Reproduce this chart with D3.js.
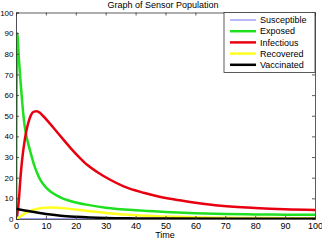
<!DOCTYPE html>
<html>
<head>
<meta charset="utf-8">
<script src="https://cdn.jsdelivr.net/npm/d3@7"></script>
<style>
  body { margin: 0; background: #fff; }
  svg { display: block; font-family: "Liberation Sans", Arial, sans-serif; }
</style>
</head>
<body>
<div id="chart"></div>
<script>
// series: [time, population]
const susceptible = [[0, 100], [0.1, 62], [0.2, 30], [0.3, 12], [0.5, 3], [1, 0.5], [2, 0.1], [100, 0]];
const exposed = [[0, 0], [0.2, 60], [0.4, 90], [1, 77], [1.5, 67], [2, 58], [2.5, 50], [3, 44], [4, 37], [5, 31.5], [6, 26.5], [7, 22.5], [8, 19.3], [10, 15.3], [12, 12.8], [15, 10.4], [20, 8], [25, 6.6], [30, 5.5], [40, 4.2], [50, 3.4], [60, 2.8], [70, 2.4], [80, 2.2], [90, 2.1], [100, 2.0]];
const infectious = [[0, 0], [0.5, 3], [1, 10], [1.5, 20], [2, 28], [3, 39], [4, 46], [5, 50.3], [6, 52], [7, 52.2], [8, 51.4], [9, 50], [11, 46.8], [13.5, 42.5], [16, 38.2], [18.5, 34], [21.5, 29.4], [24, 26], [27, 22.9], [31.5, 19], [36, 15.8], [42.7, 12.7], [48, 10.8], [54, 9.2], [60, 7.9], [68.5, 6.4], [80, 5.3], [90, 4.7], [100, 4.4]];
const recovered = [[0, 0], [1, 0.8], [2, 1.8], [4, 3.4], [6, 4.5], [8, 5.2], [10, 5.5], [12, 5.6], [15, 5.3], [20, 4.6], [25, 3.7], [30, 2.9], [35, 2.3], [40, 1.8], [50, 1.2], [60, 0.8], [70, 0.6], [80, 0.5], [90, 0.4], [100, 0.35]];
const vaccinated = [[0, 5], [5, 3.6], [10, 2.4], [15, 1.6], [20, 1.1], [30, 0.5], [40, 0.3], [50, 0.2], [100, 0.1]];

const seriesNames = ["Susceptible", "Exposed", "Infectious", "Recovered", "Vaccinated"];
const seriesData = [susceptible, exposed, infectious, recovered, vaccinated];
const seriesColors = ["#7474f4", "#1fe01f", "#e80010", "#ffff20", "#000000"];
const seriesWidths = [1, 2.5, 2.5, 2.5, 2.5];

const xTicks = [0, 10, 20, 30, 40, 50, 60, 70, 80, 90, 100];
const yTicks = [0, 10, 20, 30, 40, 50, 60, 70, 80, 90, 100];

const width = 322, height = 240;
const pLeft = 16, pRight = 315, pTop = 12.5, pBottom = 219;
const fontSize = "9px";

const svg = d3.select("#chart").append("svg")
    .attr("width", width)
    .attr("height", height);

const x = d3.scaleLinear().domain([0, 100]).range([pLeft, pRight]);
const y = d3.scaleLinear().domain([0, 100]).range([pBottom, pTop]);

// curves
const line = d3.line()
    .x(d => x(d[0]))
    .y(d => y(d[1]))
    .curve(d3.curveMonotoneX);

svg.append("defs").append("clipPath").attr("id", "clip")
    .append("rect")
    .attr("x", pLeft).attr("y", pTop - 2)
    .attr("width", pRight - pLeft).attr("height", pBottom - pTop + 2);

// draw order: blue first so the others lie over it
seriesData.forEach((s, i) => {
    svg.append("path")
        .datum(s)
        .attr("clip-path", "url(#clip)")
        .attr("fill", "none")
        .attr("stroke", seriesColors[i])
        .attr("stroke-width", seriesWidths[i])
        .attr("stroke-linejoin", "round")
        .attr("d", line);
});

// axes, matlab style: ticks inside on all four sides
const axisColor = "#333";
const tickLen = 3;

const gBottom = svg.append("g")
    .attr("transform", `translate(0,${pBottom})`)
    .call(d3.axisBottom(x).tickValues(xTicks).tickSize(-tickLen).tickPadding(4));
const gTop = svg.append("g")
    .attr("transform", `translate(0,${pTop})`)
    .call(d3.axisTop(x).tickValues(xTicks).tickSize(-tickLen).tickFormat(""));
const gLeft = svg.append("g")
    .attr("transform", `translate(${pLeft},0)`)
    .call(d3.axisLeft(y).tickValues(yTicks).tickSize(-tickLen).tickPadding(2.5));
const gRight = svg.append("g")
    .attr("transform", `translate(${pRight},0)`)
    .call(d3.axisRight(y).tickValues(yTicks).tickSize(-tickLen).tickFormat(""));

[gBottom, gTop, gLeft, gRight].forEach(g => {
    g.select(".domain").attr("stroke", axisColor).attr("stroke-width", 0.8);
    g.selectAll(".tick line").attr("stroke", axisColor).attr("stroke-width", 0.8);
    g.selectAll(".tick text")
        .attr("fill", "#000")
        .style("font-size", fontSize)
        .style("font-family", "Liberation Sans, Arial, sans-serif");
});
// left labels a little smaller so "100" fits on the page
gLeft.selectAll(".tick text").style("font-size", "8px");

// title and axis label
svg.append("text")
    .attr("x", 163).attr("y", 8)
    .attr("text-anchor", "middle")
    .style("font-size", fontSize)
    .text("Graph of Sensor Population");

svg.append("text")
    .attr("x", 165).attr("y", 238)
    .attr("text-anchor", "middle")
    .style("font-size", fontSize)
    .text("Time");

// legend
const lg = svg.append("g");
lg.append("rect")
    .attr("x", 224).attr("y", pTop)
    .attr("width", pRight - 224).attr("height", 60)
    .attr("fill", "#fff")
    .attr("stroke", axisColor)
    .attr("stroke-width", 0.8);

seriesNames.forEach((name, i) => {
    const ly = 20 + i * 11.2;
    lg.append("line")
        .attr("x1", 230).attr("x2", 256)
        .attr("y1", ly).attr("y2", ly)
        .attr("stroke", seriesColors[i])
        .attr("stroke-width", seriesWidths[i]);
    lg.append("text")
        .attr("x", 260).attr("y", ly + 3.2)
        .style("font-size", fontSize)
        .text(name);
});
</script>
</body>
</html>
